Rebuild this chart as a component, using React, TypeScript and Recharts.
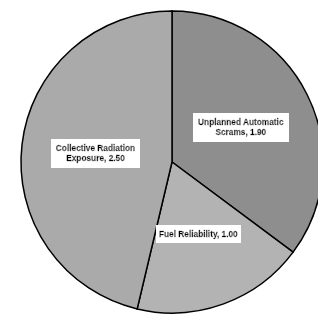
import React from "react";
import { PieChart, Pie, Cell } from "recharts";

const categories = ["Unplanned Automatic Scrams", "Fuel Reliability", "Collective Radiation Exposure"];
const values = [1.9, 1.0, 2.5];
const labelLines = [
  ["Unplanned Automatic", "Scrams, 1.90"],
  ["Fuel Reliability, 1.00"],
  ["Collective Radiation", "Exposure, 2.50"],
];
const colors = ["#8e8e8e", "#b3b3b3", "#aaaaaa"];

const data = categories.map((name, i) => ({ name, value: values[i], lines: labelLines[i] }));

const RAD = Math.PI / 180;

const renderLabel = (props: any) => {
  const { cx, cy, midAngle, outerRadius, index } = props;
  const r = outerRadius * 0.51;
  const x = cx + r * Math.cos(-midAngle * RAD);
  const y = cy + r * Math.sin(-midAngle * RAD);
  const lines: string[] = data[index].lines;
  const lh = 10;
  const startY = y - ((lines.length - 1) * lh) / 2;
  const filterId = lines.length > 1 ? "bg2" : "bg1";
  return (
    <text
      key={`lbl-${index}`}
      x={x}
      y={startY}
      textAnchor="middle"
      dominantBaseline="central"
      style={{
        fontFamily: "'Liberation Sans', Arial, sans-serif",
        fontWeight: 700,
        fontSize: "8.3px",
        fill: "#000",
        stroke: "#000",
        strokeWidth: 0.35,
      }}
      filter={`url(#${filterId})`}
    >
      {lines.map((ln, i) => (
        <tspan key={i} x={x} dy={i === 0 ? 0 : lh}>
          {ln}
        </tspan>
      ))}
    </text>
  );
};

export default function App() {
  return (
    <div style={{ position: "absolute", left: 0, top: 0, width: 318, height: 315, background: "#fff" }}>
      <PieChart width={318} height={315} margin={{ top: 0, right: 0, bottom: 0, left: 0 }}>
        <defs>
          <filter id="bg2" x="-0.05" y="-0.2" width="1.1" height="1.4">
            <feFlood floodColor="#ffffff" result="bg" />
            <feMerge>
              <feMergeNode in="bg" />
              <feMergeNode in="SourceGraphic" />
            </feMerge>
          </filter>
          <filter id="bg1" x="-0.035" y="-0.35" width="1.07" height="1.7">
            <feFlood floodColor="#ffffff" result="bg" />
            <feMerge>
              <feMergeNode in="bg" />
              <feMergeNode in="SourceGraphic" />
            </feMerge>
          </filter>
        </defs>
        <Pie
          data={data}
          dataKey="value"
          nameKey="name"
          cx={172}
          cy={162}
          outerRadius={151}
          startAngle={90}
          endAngle={-270}
          stroke="#000"
          strokeWidth={1.5}
          label={renderLabel}
          labelLine={false}
          isAnimationActive={false}
        >
          {data.map((d, i) => (
            <Cell key={d.name} fill={colors[i]} />
          ))}
        </Pie>
      </PieChart>
    </div>
  );
}
